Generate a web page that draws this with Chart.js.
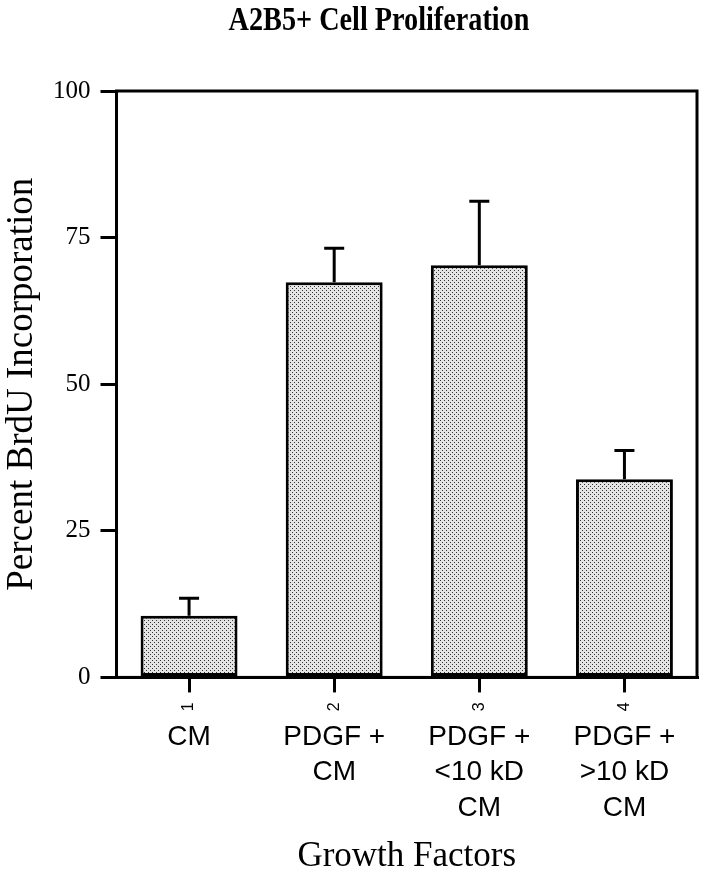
<!DOCTYPE html>
<html>
<head>
<meta charset="utf-8">
<script src="https://cdn.jsdelivr.net/npm/chart.js@4/dist/chart.umd.min.js"></script>
<style>
  html, body { margin: 0; padding: 0; background: #fff; }
  #wrap { position: relative; width: 707px; height: 875px; }
  #title {
    position: absolute; left: 0; top: 0; width: 758px; height: 40px;
    line-height: 40px; text-align: center;
    font: bold 34px "Liberation Serif", "Times New Roman", serif; color: #000;
    transform: scaleX(0.83); transform-origin: 379px 0;
    white-space: nowrap;
  }
</style>
</head>
<body>
<div id="wrap">
  <div id="title">A2B5+ Cell Proliferation</div>
  <canvas id="c" width="707" height="875"></canvas>
</div>
<script>
// ---- data ----
const tickNumbers = ['1', '2', '3', '4'];
const groupLabels = [['CM'], ['PDGF +', 'CM'], ['PDGF +', '<10 kD', 'CM'], ['PDGF +', '>10 kD', 'CM']];
const percentBrdU = [10.5, 67.4, 70.3, 33.8];
const errorPlus = [3.0, 5.8, 10.9, 4.9];
const yTicks = [0, 25, 50, 75, 100];

// stipple pattern for bar fill
function makeStipple() {
  const p = document.createElement('canvas');
  p.width = 4; p.height = 4;
  const g = p.getContext('2d');
  g.fillStyle = '#e4e4e4';
  g.fillRect(0, 0, 4, 4);
  g.fillStyle = '#333333';
  g.fillRect(0, 0, 1, 1);
  g.fillRect(2, 2, 1, 1);
  return g.createPattern(p, 'repeat');
}
const stipple = makeStipple();

const framePlugin = {
  id: 'frame',
  afterDatasetsDraw(chart) {
    const { ctx, chartArea: a } = chart;
    ctx.save();
    ctx.strokeStyle = '#000';
    ctx.lineWidth = 3;
    ctx.strokeRect(a.left, a.top, a.right - a.left, a.bottom - a.top);
    ctx.restore();
  }
};

const errorBarPlugin = {
  id: 'errorBars',
  afterDatasetsDraw(chart) {
    const { ctx } = chart;
    const meta = chart.getDatasetMeta(0);
    const y = chart.scales.y;
    ctx.save();
    ctx.strokeStyle = '#000';
    ctx.lineWidth = 3;
    ctx.lineCap = 'butt';
    meta.data.forEach((bar, i) => {
      const top = y.getPixelForValue(percentBrdU[i] + errorPlus[i]);
      const base = y.getPixelForValue(percentBrdU[i]);
      ctx.beginPath();
      ctx.moveTo(bar.x, base);
      ctx.lineTo(bar.x, top);
      ctx.moveTo(bar.x - 10, top);
      ctx.lineTo(bar.x + 10, top);
      ctx.stroke();
    });
    ctx.restore();
  }
};

new Chart(document.getElementById('c'), {
  type: 'bar',
  data: {
    labels: tickNumbers,
    datasets: [{
      data: percentBrdU,
      backgroundColor: stipple,
      borderColor: '#000',
      borderWidth: 3,
      borderSkipped: false,
      categoryPercentage: 1,
      barPercentage: 0.668
    }]
  },
  options: {
    responsive: false,
    animation: false,
    devicePixelRatio: 1,
    layout: { padding: { top: 91, right: 10, left: 1, bottom: 1 } },
    plugins: { legend: { display: false }, tooltip: { enabled: false }, title: { display: false } },
    scales: {
      x: {
        position: 'bottom',
        weight: 0,
        offset: true,
        grid: { display: true, offset: false, drawOnChartArea: false, drawTicks: true, tickLength: 15, lineWidth: 3, color: '#000' },
        border: { display: true, width: 3, color: '#000' },
        ticks: { color: '#000', font: { family: 'Liberation Sans', size: 16 }, minRotation: 90, maxRotation: 90, padding: 10 }
      },
      x2: {
        type: 'category',
        position: 'bottom',
        weight: 1,
        offset: true,
        labels: groupLabels,
        grid: { display: false, drawTicks: false, tickLength: 0 },
        border: { display: false },
        ticks: { color: '#000', font: { family: 'Liberation Sans', size: 28, lineHeight: 1.27 }, padding: -2, maxRotation: 0, autoSkip: false },
        title: { display: true, text: 'Growth Factors', color: '#000', font: { family: 'Liberation Serif', size: 35, lineHeight: 1.0 }, padding: { top: 15, bottom: 0 } }
      },
      y: {
        min: 0, max: 100,
        afterBuildTicks(scale) { scale.ticks = yTicks.map(v => ({ value: v })); },
        grid: { display: true, drawOnChartArea: false, drawTicks: true, tickLength: 16, lineWidth: 3, color: '#000' },
        border: { display: true, width: 3, color: '#000' },
        ticks: { color: '#000', font: { family: 'Liberation Serif', size: 25 }, padding: 10 },
        title: { display: true, text: 'Percent BrdU Incorporation', color: '#000', font: { family: 'Liberation Serif', size: 37, lineHeight: 1.0 }, padding: { top: 3, bottom: 2 } }
      }
    }
  },
  plugins: [framePlugin, errorBarPlugin]
});
</script>
</body>
</html>
